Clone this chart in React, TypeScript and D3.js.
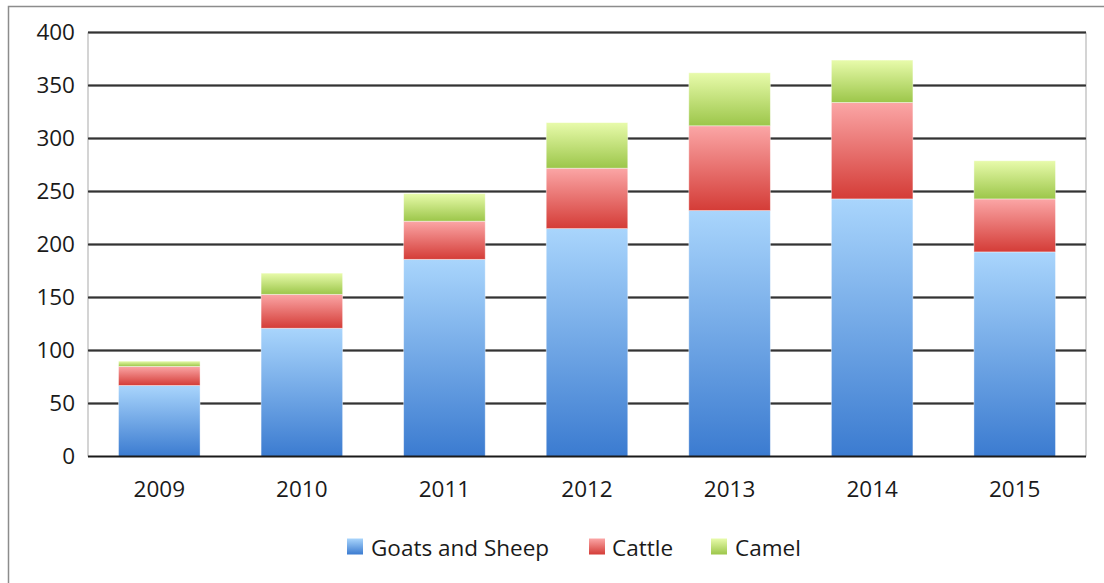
import React from "react";
import * as d3 from "d3";

const years = ["2009", "2010", "2011", "2012", "2013", "2014", "2015"];
const goatsSheep = [67, 121, 186, 215, 232, 243, 193];
const cattle = [18, 32, 36, 57, 80, 91, 50];
const camel = [5, 20, 26, 43, 50, 40, 36];
const yTicks = [0, 50, 100, 150, 200, 250, 300, 350, 400];
const seriesNames = ["Goats and Sheep", "Cattle", "Camel"];
const seriesGradients = [
  ["#a9d5fc", "#3b7bd0"],
  ["#fba6a6", "#d43c37"],
  ["#e8fbab", "#9cc64a"],
];

const FONT = "'Open Sans', sans-serif";
const FS = 22.5;

export default function App() {
  const W = 1104, H = 583;
  const left = 88, right = 1086, top = 32.5, bottom = 456.5;
  const x = d3.scaleBand<string>().domain(years).range([left, right]).paddingInner(0.428).paddingOuter(0.214);
  const y = d3.scaleLinear().domain([0, 400]).range([bottom, top]);
  const rows = years.map((yr, i) => ({ year: yr, g: goatsSheep[i], c: cattle[i], m: camel[i] }));
  const stack = d3.stack<any>().keys(["g", "c", "m"])(rows);

  const legendItems = [
    { name: seriesNames[0], sx: 347, tx: 371 },
    { name: seriesNames[1], sx: 589, tx: 612 },
    { name: seriesNames[2], sx: 711, tx: 735 },
  ];

  return (
    <svg width={W} height={H} style={{ position: "absolute", left: 0, top: 0, background: "#fff" }} fontFamily={FONT}>
      <defs>
        {seriesGradients.map((g, i) => (
          <linearGradient key={i} id={`grad${i}`} x1="0" y1="0" x2="0" y2="1">
            <stop offset="0" stopColor={g[0]} />
            <stop offset="1" stopColor={g[1]} />
          </linearGradient>
        ))}
      </defs>
      <rect x={8.5} y={6.5} width={W} height={H} fill="#fff" stroke="#8c8c8c" strokeWidth={1.5} />
      <line x1={left} x2={left} y1={top} y2={bottom} stroke="#d4d4d4" strokeWidth={2} />
      <line x1={right} x2={right} y1={top} y2={bottom} stroke="#d4d4d4" strokeWidth={2} />
      {yTicks.filter((t) => t > 0).map((t) => (
        <g key={t}>
          <line x1={left} x2={right} y1={y(t)} y2={y(t)} stroke="#9a9a9a" strokeWidth={3} />
          <line x1={left} x2={right} y1={y(t)} y2={y(t)} stroke="#333" strokeWidth={1.4} />
        </g>
      ))}
      {stack.map((s, si) => (
        <g key={si}>
          {s.map((d: any, i: number) => (
            <rect
              key={i}
              x={x(years[i])}
              y={y(d[1])}
              width={x.bandwidth()}
              height={y(d[0]) - y(d[1])}
              fill={`url(#grad${si})`}
              stroke="#ffffff"
              strokeOpacity={0.5}
              strokeWidth={0.8}
            />
          ))}
        </g>
      ))}
      <line x1={left} x2={right} y1={bottom} y2={bottom} stroke="#1a1a1a" strokeWidth={2} />
      {yTicks.map((t) => (
        <text key={t} x={75} y={y(t)} dy="0.35em" textAnchor="end" fontSize={FS} fill="#1a1a1a">
          {t}
        </text>
      ))}
      {years.map((yr) => (
        <text key={yr} x={(x(yr) as number) + x.bandwidth() / 2} y={497} textAnchor="middle" fontSize={FS} fill="#1a1a1a">
          {yr}
        </text>
      ))}
      {legendItems.map((it, i) => (
        <g key={i}>
          <rect x={it.sx} y={538.5} width={16} height={16} fill={`url(#grad${i})`} />
          <text x={it.tx} y={555.5} fontSize={FS} fill="#1a1a1a">
            {it.name}
          </text>
        </g>
      ))}
    </svg>
  );
}
